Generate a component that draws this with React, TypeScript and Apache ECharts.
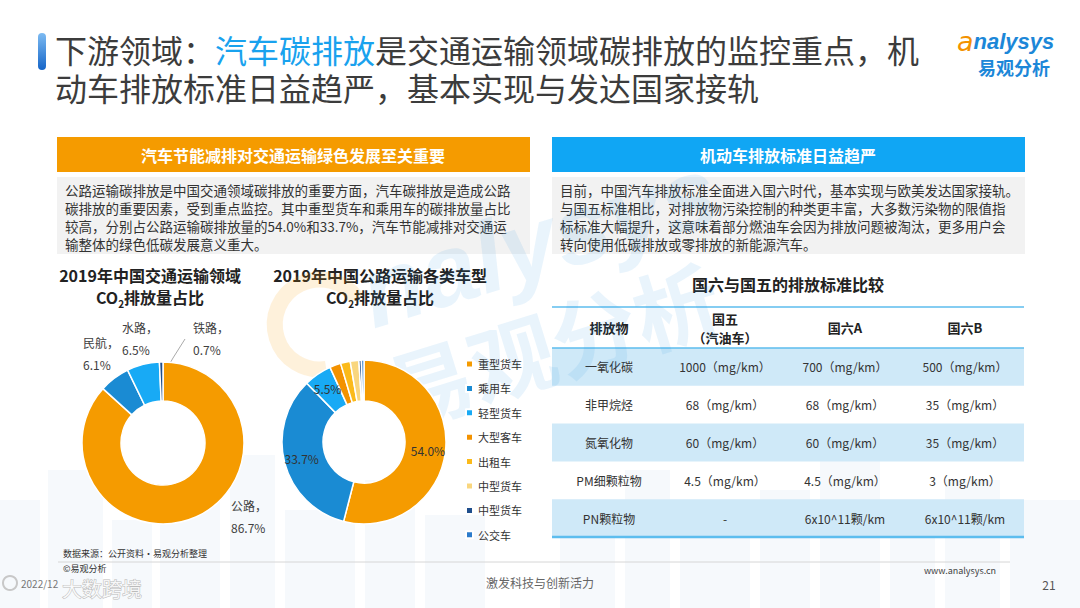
import React, { useEffect, useRef } from "react";
import * as echarts from "echarts";

const FONT = '"Noto Sans CJK SC", "Noto Sans", sans-serif';

// ---------- texts ----------
const titleLine1 = ["下游领域：", "汽车碳排放", "是交通运输领域碳排放的监控重点，机"];
const titleLine2 = "动车排放标准日益趋严，基本实现与发达国家接轨";
const leftHeader = "汽车节能减排对交通运输绿色发展至关重要";
const rightHeader = "机动车排放标准日益趋严";
const leftParagraph = [
  "公路运输碳排放是中国交通领域碳排放的重要方面，汽车碳排放是造成公路",
  "碳排放的重要因素，受到重点监控。其中重型货车和乘用车的碳排放量占比",
  "较高，分别占公路运输碳排放量的54.0%和33.7%，汽车节能减排对交通运",
  "输整体的绿色低碳发展意义重大。",
];
const rightParagraph = [
  "目前，中国汽车排放标准全面进入国六时代，基本实现与欧美发达国家接轨。",
  "与国五标准相比，对排放物污染控制的种类更丰富，大多数污染物的限值指",
  "标标准大幅提升，这意味着部分燃油车会因为排放问题被淘汰，更多用户会",
  "转向使用低碳排放或零排放的新能源汽车。",
];
const leftChartTitle = "2019年中国交通运输领域";
const rightChartTitle = "2019年中国公路运输各类车型";

// ---------- pie data ----------
const modeCategories = ["公路", "民航", "水路", "铁路"];
const modeShares = [86.7, 6.1, 6.5, 0.7];
const modeColors = ["#F59B00", "#1A8BD3", "#18AAF5", "#1F4E8C"];

const vehicleCategories = ["重型货车", "乘用车", "轻型货车", "大型客车", "出租车", "中型货车", "中型货车 ", "公交车"];
const vehicleShares = [54.0, 33.7, 5.5, 2.2, 1.9, 1.7, 0.5, 0.5];
const vehicleColors = ["#F59B00", "#1A8BD3", "#18AAF5", "#F39200", "#FBBA1A", "#F9D67E", "#1F4E8C", "#2B7BCB"];
const vehicleLabelled = [true, true, true, false, false, false, false, false];

// ---------- table data ----------
const tableTitle = "国六与国五的排放标准比较";
const tableHeader = ["排放物", "国五\n（汽油车）", "国六A", "国六B"];
const pollutants = ["一氧化碳", "非甲烷烃", "氮氧化物", "PM细颗粒物", "PN颗粒物"];
const guo5 = ["1000（mg/km）", "68（mg/km）", "60（mg/km）", "4.5（mg/km）", "-"];
const guo6A = ["700（mg/km）", "68（mg/km）", "60（mg/km）", "4.5（mg/km）", "6x10^11颗/km"];
const guo6B = ["500（mg/km）", "35（mg/km）", "35（mg/km）", "3（mg/km）", "6x10^11颗/km"];

// ---------- layout ----------
const leftLabelPos = [
  [231, 516],
  [83, 353],
  [122, 338],
  [193, 338],
];

function buildGraphics(): any[] {
  const els: any[] = [];
  // faint city background
  const buildings = [
    [0, 500, 40, 108], [48, 470, 55, 138], [112, 520, 40, 88], [160, 490, 60, 118],
    [230, 455, 45, 153], [285, 510, 70, 98], [365, 480, 50, 128], [425, 515, 60, 93],
    [560, 500, 55, 108], [625, 470, 45, 138], [680, 520, 70, 88], [760, 490, 50, 118],
    [820, 460, 60, 148], [890, 505, 45, 103], [945, 480, 55, 128], [1010, 500, 70, 108],
  ];
  buildings.forEach((b) => {
    els.push({
      type: "rect", z: -10, silent: true,
      shape: { x: b[0], y: b[1], width: b[2], height: b[3] },
      style: { fill: "#F6F9FC" },
    });
  });

  // title bar
  els.push({
    type: "rect", shape: { x: 38, y: 33, width: 8, height: 37, r: 4 },
    style: {
      fill: new echarts.graphic.LinearGradient(0, 0, 0, 1, [
        { offset: 0, color: "#7DBBF2" },
        { offset: 1, color: "#1565C8" },
      ]),
    },
  });
  els.push({
    type: "text", x: 55, y: 30,
    style: {
      text: `{n|${titleLine1[0]}}{h|${titleLine1[1]}}{n|${titleLine1[2]}}\n{n|${titleLine2}}`,
      verticalAlign: "top", align: "left",
      rich: {
        n: { fontSize: 32, fontFamily: FONT, fill: "#3C3C3C", lineHeight: 38 },
        h: { fontSize: 32, fontFamily: FONT, fill: "#19A2EE", lineHeight: 38 },
      },
    },
  });

  // logo
  els.push({
    type: "text", x: 957, y: 41,
    style: {
      text: "{a|a}{b|nalysys}", verticalAlign: "middle", align: "left",
      rich: {
        a: { fontSize: 27, fontStyle: "italic", fontFamily: "DejaVu Sans", fill: "#F39200" },
        b: { fontSize: 22, fontStyle: "italic", fontWeight: "bold", fontFamily: "Liberation Sans", fill: "#1C87D8" },
      },
    },
  });
  els.push({
    type: "text", x: 1014, y: 67,
    style: { text: "易观分析", fontSize: 18, fontWeight: "bold", fontFamily: FONT, fill: "#1C87D8", align: "center", verticalAlign: "middle" },
  });

  // headers & paragraphs
  const blocks = [
    { x: 57, color: "#F59B00", header: leftHeader, para: leftParagraph },
    { x: 552, color: "#10A6F4", header: rightHeader, para: rightParagraph },
  ];
  blocks.forEach((b) => {
    els.push({ type: "rect", shape: { x: b.x, y: 137, width: 473, height: 35 }, style: { fill: b.color } });
    els.push({
      type: "text", x: b.x + 236, y: 155,
      style: { text: b.header, fontSize: 16, fontWeight: "bold", fontFamily: FONT, fill: "#fff", align: "center", verticalAlign: "middle" },
    });
    els.push({ type: "rect", shape: { x: b.x, y: 177, width: 473, height: 77 }, style: { fill: "#F2F2F2" } });
    els.push({
      type: "text", x: b.x + 8, y: 181,
      style: { text: b.para.join("\n"), fontSize: 13.5, lineHeight: 18, fontFamily: FONT, fill: "#333", align: "left", verticalAlign: "top" },
    });
  });

  // chart titles
  [
    { x: 150, t: leftChartTitle },
    { x: 380, t: rightChartTitle },
  ].forEach((c) => {
    els.push({
      type: "text", x: c.x, y: 264,
      style: {
        text: `{a|${c.t}}\n{a|CO}{s|2}{a|排放量占比}`, align: "center", verticalAlign: "top",
        rich: {
          a: { fontSize: 16, fontWeight: "bold", fontFamily: FONT, fill: "#222", lineHeight: 22 },
          s: { fontSize: 10, fontWeight: "bold", fontFamily: FONT, fill: "#222", verticalAlign: "bottom", padding: [8, 0, 0, 0] },
        },
      },
    });
  });

  // table
  els.push({
    type: "text", x: 788, y: 284,
    style: { text: tableTitle, fontSize: 16, fontWeight: "bold", fontFamily: FONT, fill: "#222", align: "center", verticalAlign: "middle" },
  });
  const tx = 552, tw = 472;
  const headTop = 307, headBottom = 348, rowH = 37.8;
  const colX = [609, 725, 845, 965];
  pollutants.forEach((p, i) => {
    const y0 = headBottom + i * rowH;
    if (i % 2 === 0) {
      els.push({ type: "rect", shape: { x: tx, y: y0, width: tw, height: rowH }, style: { fill: "#CFE9F8" } });
    }
    const cells = [p, guo5[i], guo6A[i], guo6B[i]];
    cells.forEach((c, j) => {
      els.push({
        type: "text", x: colX[j], y: y0 + rowH / 2,
        style: { text: c, fontSize: 12, fontFamily: FONT, fill: "#333", align: "center", verticalAlign: "middle" },
      });
    });
  });
  tableHeader.forEach((h, j) => {
    els.push({
      type: "text", x: colX[j], y: (headTop + headBottom) / 2,
      style: { text: h, fontSize: 13, fontWeight: "bold", fontFamily: FONT, fill: "#222", align: "center", verticalAlign: "middle", lineHeight: 19 },
    });
  });
  const tableBottom = headBottom + pollutants.length * rowH;
  [
    [headTop, 1.5],
    [headBottom, 1.5],
    [tableBottom, 2.5],
  ].forEach(([y, w]) => {
    els.push({ type: "line", shape: { x1: tx, y1: y, x2: tx + tw, y2: y }, style: { stroke: "#5CBDEE", lineWidth: w } });
  });

  // footer
  els.push({
    type: "text", x: 63, y: 553,
    style: { text: "数据来源：公开资料·易观分析整理", fontSize: 9, fontFamily: FONT, fill: "#333", align: "left", verticalAlign: "middle" },
  });
  els.push({ type: "line", shape: { x1: 58, y1: 562, x2: 1010, y2: 562 }, style: { stroke: "#D6D6D6", lineWidth: 1 } });
  els.push({
    type: "text", x: 63, y: 568,
    style: { text: "©易观分析", fontSize: 9, fontFamily: FONT, fill: "#333", align: "left", verticalAlign: "middle" },
  });
  els.push({
    type: "text", x: 540, y: 582,
    style: { text: "激发科技与创新活力", fontSize: 12, fontFamily: FONT, fill: "#666", align: "center", verticalAlign: "middle" },
  });
  els.push({
    type: "text", x: 960, y: 570,
    style: { text: "www.analysys.cn", fontSize: 9, fontFamily: FONT, fill: "#444", align: "center", verticalAlign: "middle" },
  });
  els.push({
    type: "text", x: 1049, y: 584,
    style: { text: "21", fontSize: 12, fontFamily: FONT, fill: "#555", align: "center", verticalAlign: "middle" },
  });
  els.push({
    type: "circle", shape: { cx: 10, cy: 583, r: 7 },
    style: { fill: "none", stroke: "#C8C8C8", lineWidth: 2 },
  });
  els.push({
    type: "text", x: 21, y: 583,
    style: { text: "2022/12", fontSize: 10, fontFamily: FONT, fill: "#777", align: "left", verticalAlign: "middle" },
  });
  els.push({
    type: "text", x: 62, y: 588, z: 50,
    style: { text: "大数跨境", fontSize: 20, fontFamily: FONT, fill: "rgba(255,255,255,0.85)", stroke: "#BBBBBB", lineWidth: 1, align: "left", verticalAlign: "middle" },
  });

  // watermark
  els.push({
    type: "group", x: 300, y: 362, rotation: 0.3, z: 100, silent: true,
    children: [
      { type: "arc", shape: { cx: 30, cy: -30, r: 45, startAngle: Math.PI * 0.55, endAngle: Math.PI * 1.9 }, style: { stroke: "rgba(245,155,0,0.14)", lineWidth: 16, fill: "none" } },
      { type: "text", x: 80, y: -45, style: { text: "nalysys", fontSize: 100, fontStyle: "italic", fontWeight: "bold", fontFamily: "Liberation Sans", fill: "rgba(40,150,230,0.10)", verticalAlign: "middle" } },
      { type: "text", x: 75, y: 55, style: { text: "易观分析", fontSize: 86, fontWeight: "bold", fontFamily: FONT, fill: "rgba(40,150,230,0.10)", verticalAlign: "middle" } },
    ],
  });
  return els;
}

const option: any = {
  animation: false,
  backgroundColor: "#fff",
  textStyle: { fontFamily: FONT },
  legend: {
    orient: "vertical",
    left: 460,
    top: 353,
    itemWidth: 7,
    itemHeight: 7,
    itemGap: 12.4,
    icon: "rect",
    selectedMode: false,
    data: vehicleCategories,
    textStyle: { fontSize: 11, color: "#333", lineHeight: 12, fontFamily: FONT },
  },
  graphic: { elements: buildGraphics() },
  series: [
    {
      type: "pie",
      center: [163, 443],
      radius: [42, 81],
      startAngle: 90,
      clockwise: true,
      silent: true,
      avoidLabelOverlap: false,
      itemStyle: { borderColor: "#fff", borderWidth: 1.5 },
      label: {
        show: true,
        position: "outside",
        formatter: (p: any) => `${p.name}，\n${p.value.toFixed(1)}%`,
        fontSize: 12,
        lineHeight: 22,
        color: "#404040",
        fontFamily: FONT,
      },
      labelLine: { show: false },
      labelLayout: (p: any) => {
        const pos = leftLabelPos[p.dataIndex];
        const r: any = { x: pos[0], y: pos[1], align: "left", verticalAlign: "middle" };
        if (p.dataIndex === 3) {
          r.labelLinePoints = [
            [162, 377],
            [173, 358],
            [185, 339],
          ];
        }
        return r;
      },
      data: modeCategories.map((n, i) => ({
        name: n,
        value: modeShares[i],
        itemStyle: { color: modeColors[i] },
        labelLine: i === 3 ? { show: true, length: 10, length2: 10, lineStyle: { color: "#AAAAAA", width: 1 } } : { show: false },
      })),
    },
    {
      type: "pie",
      center: [364, 442],
      radius: [41, 82],
      startAngle: 90,
      clockwise: true,
      silent: true,
      itemStyle: { borderColor: "#fff", borderWidth: 1.5 },
      label: {
        show: false,
        position: "inside",
        formatter: (p: any) => `${p.value.toFixed(1)}%`,
        fontSize: 12,
        color: "#333",
        fontFamily: FONT,
      },
      labelLine: { show: false },
      data: vehicleCategories.map((n, i) => ({
        name: n,
        value: vehicleShares[i],
        itemStyle: { color: vehicleColors[i] },
        label: { show: vehicleLabelled[i] },
      })),
    },
  ],
};

export default function App() {
  const ref = useRef<HTMLDivElement>(null);
  useEffect(() => {
    const chart = echarts.init(ref.current!, null, { renderer: "svg" });
    chart.setOption(option);
    return () => chart.dispose();
  }, []);
  return (
    <div
      ref={ref}
      style={{ position: "fixed", left: 0, top: 0, width: 1080, height: 608, background: "#fff" }}
    />
  );
}
